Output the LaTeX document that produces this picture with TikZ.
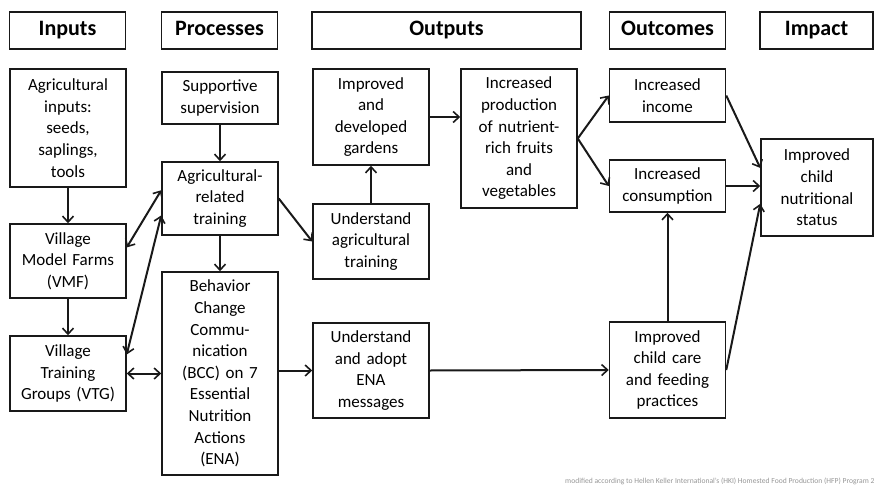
\documentclass[tikz,border=0pt]{standalone}
\usepackage{fontspec}
\setmainfont{Carlito}
\usetikzlibrary{arrows.meta}
\definecolor{bordo}{RGB}{25,25,25}
\definecolor{nota}{RGB}{150,150,150}
\tikzset{
  box/.style={draw=bordo, line width=1.5pt, align=center, inner sep=0pt,
    minimum width=116pt, text width=112pt,
    font=\fontsize{17}{21.6}\selectfont},
  head/.style={box, minimum height=37pt, text height=15pt, text depth=4pt,
    font=\fontsize{22}{24}\selectfont\bfseries},
  arr/.style={draw=bordo, line width=2pt, -{Straight Barb[length=6pt,width=11pt,line width=1.6pt]}},
  darr/.style={arr, {Straight Barb[length=6pt,width=11pt,line width=1.6pt]}-{Straight Barb[length=6pt,width=11pt,line width=1.6pt]}}
}
\begin{document}
\begin{tikzpicture}[x=1pt, y=-1pt]
        \useasboundingbox (0,0) rectangle (874,489);
        % intestazioni
        \node[head] (hin) at (67.5,30.5) {Inputs};
        \node[head] (hpro) at (219.5,30.5) {Processes};
        \node[head, minimum width=269pt, text width=260pt] (hout) at (446.5,30.5) {Outputs};
        \node[head] (hoc) at (667.5,30.5) {Outcomes};
        \node[head, minimum width=113pt, text width=110pt] (him) at (816.5,30.5) {Impact};

        % colonna inputs
        \node[box, minimum height=118pt] (agin) at (68,128) {Agricultural\\inputs:\\seeds,\\saplings,\\tools};
        \node[box, minimum height=74pt] (vmf) at (68,261) {Village\\Model Farms\\(VMF)};
        \node[box, minimum height=75pt] (vtg) at (68,373.5) {Village\\Training\\Groups (VTG)};

        % colonna processes
        \node[box, minimum height=52pt] (sup) at (220,98) {Supportive\\supervision};
        \node[box, minimum height=73pt] (agtr) at (220,198.5) {Agricultural-\\related\\training};
        \node[box, minimum height=203pt] (bcc) at (220,373.5) {Behavior\\Change\\Commu-\\nication\\(BCC) on 7\\Essential\\Nutrition\\Actions\\(ENA)};

        % colonna outputs
        \node[box, minimum height=96pt] (gard) at (371,117) {Improved\\and\\developed\\gardens};
        \node[box, minimum height=75pt] (uagr) at (371,241.5) {Understand\\agricultural\\training};
        \node[box, minimum height=95pt] (uena) at (371,370.5) {Understand\\and adopt\\ENA\\messages};
        \node[box, minimum height=139pt] (prod) at (519,138.5) {Increased\\production\\of nutrient-\\rich fruits\\and\\vegetables};

        % colonna outcomes e impact
        \node[box, minimum height=53pt] (inc) at (667.5,95.5) {Increased\\income};
        \node[box, minimum height=52pt] (cons) at (667.5,186) {Increased\\consumption};
        \node[box, minimum height=96pt] (care) at (667.5,370) {Improved\\child care\\and feeding\\practices};
        \node[box, minimum width=112pt, text width=108pt, minimum height=97pt] (nutr) at (817,187.5) {Improved\\child\\nutritional\\status};

        % frecce
        \draw[arr] (agin) -- (vmf);
        \draw[arr] (vmf) -- (vtg);
        \draw[darr] (vmf.13) -- (agtr.172);
        \draw[darr] (vtg.18) -- (agtr.196);
        \draw[darr] (vtg.east) -- (vtg.east -| bcc.west);
        \draw[arr] (sup) -- (agtr);
        \draw[arr] (agtr) -- (bcc);
        \draw[arr] (agtr.east) -- (uagr.west);
        \draw[arr] (uagr) -- (gard);
        \draw[arr] (gard.east) -- (gard.east -| prod.west);
        \draw[arr] (prod.east) -- (inc.west);
        \draw[arr] (prod.east) -- (cons.west);
        \draw[arr] (bcc.east |- uena.east) -- (uena.west);
        \draw[arr] (uena.east) -- (care.west);
        \draw[arr] (care) -- (cons);
        \draw[arr] (inc.east) -- (nutr.161);
        \draw[arr] (cons.east) -- (cons.east -| nutr.west);
        \draw[arr] (care.east) -- (nutr.196);

        % nota
        \begin{scope}
          \clip (0,0) rectangle (874,489);
          \node[anchor=base west, inner sep=0pt, text=nota, font=\fontsize{7.6}{9}\selectfont] (note) at (565,483) {modified according to Hellen Keller International’s (HKI) Homested Food Production (HFP) Program 2};
        \end{scope}
    \end{tikzpicture}
\end{document}
